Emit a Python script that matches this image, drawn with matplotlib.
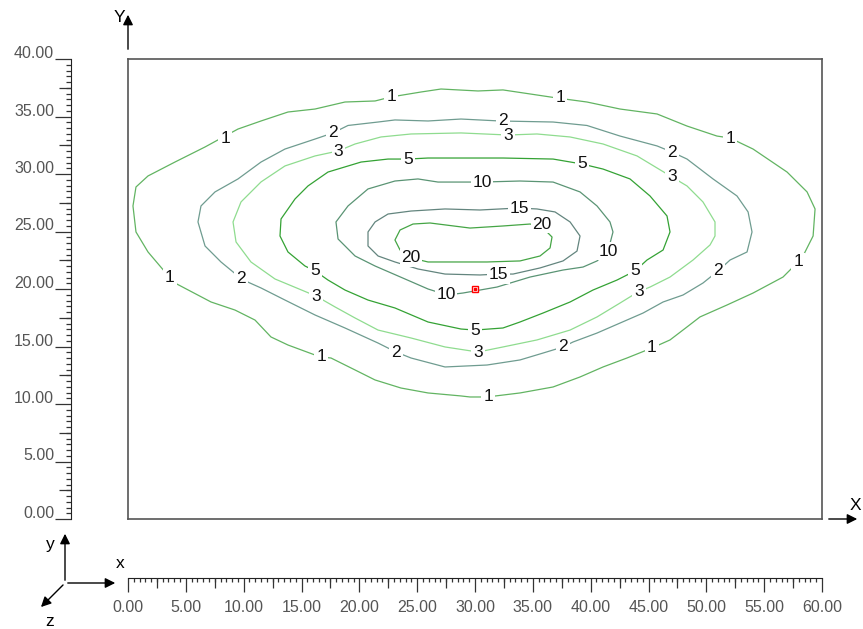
import matplotlib
matplotlib.use("Agg")
import matplotlib.pyplot as plt
from matplotlib.ticker import MultipleLocator, FixedLocator, NullFormatter

plt.rcParams['font.family'] = ['Liberation Sans', 'DejaVu Sans']

# isolines picked off the plan, one closed polyline per level (x, y in m)
c1_x = [3.63, 3.20, 1.73, 0.69, 0.43, 0.69, 1.73, 4.06, 6.66, 8.39, 9.51, 11.50, 13.83, 16.17,
        18.76, 21.36, 22.74, 25.33, 27.06, 30.26, 32.42, 34.76, 37.09, 39.68, 42.54, 45.74,
        48.33, 50.92, 52.05, 54.04, 56.98, 58.71, 59.40, 59.23, 58.36, 57.93, 56.63, 54.04,
        51.79, 49.45, 48.33, 46.86, 45.30, 43.14, 41.07, 39.08, 36.75, 33.89, 31.04, 29.57,
        28.79, 25.94, 23.60, 21.36, 19.63, 17.55, 16.69, 16.17, 13.83, 12.36, 10.98, 9.25,
        7.18, 4.06, 3.63]
c1_y = [20.96, 21.48, 23.22, 24.96, 27.22, 28.87, 29.83, 31.04, 32.35, 33.30, 33.91, 34.61,
        35.39, 35.65, 36.26, 36.35, 36.70, 37.13, 37.39, 37.22, 37.31, 36.96, 36.61, 36.26,
        35.65, 35.22, 34.17, 33.30, 33.13, 32.17, 30.17, 28.44, 26.96, 24.61, 22.87, 22.35,
        21.04, 19.65, 18.61, 17.57, 16.70, 15.57, 14.87, 14.00, 13.22, 12.35, 11.48, 10.96,
        10.61, 10.61, 10.70, 10.96, 11.39, 12.09, 12.96, 14.00, 14.09, 14.26, 15.13, 15.83,
        17.30, 18.17, 18.87, 20.52, 20.96]

c2_x = [9.51, 8.04, 6.66, 6.05, 6.31, 7.52, 9.51, 11.50, 13.57, 16.17, 17.72, 19.02, 21.62,
        23.08, 25.94, 28.79, 32.16, 36.75, 39.68, 42.54, 45.74, 47.03, 48.33, 50.58, 52.65,
        53.61, 53.95, 53.52, 52.05, 51.01, 49.71, 47.99, 46.26, 44.53, 42.54, 40.55, 38.47,
        37.61, 35.88, 33.89, 31.04, 27.41, 24.47, 23.17, 21.62, 18.76, 16.17, 13.57, 11.50,
        9.77, 9.51]
c2_y = [21.13, 22.35, 23.74, 25.83, 27.22, 28.44, 29.57, 31.04, 32.17, 33.04, 33.57, 34.22,
        34.52, 34.70, 34.61, 34.78, 34.61, 34.52, 34.22, 33.30, 32.44, 31.91, 31.30, 29.57,
        28.09, 26.70, 24.96, 23.22, 22.52, 21.57, 20.52, 19.48, 18.87, 17.91, 17.04, 16.17,
        15.39, 14.96, 14.43, 13.83, 13.39, 13.22, 14.00, 14.52, 15.30, 16.61, 17.74, 19.04,
        20.09, 20.87, 21.13]

c3_x = [16.25, 12.71, 10.63, 9.34, 9.08, 9.77, 11.50, 13.57, 16.17, 18.16, 19.63, 21.87,
        24.47, 28.79, 32.85, 35.36, 38.22, 41.07, 44.01, 47.03, 48.33, 49.71, 50.75, 50.75,
        50.32, 48.85, 46.86, 45.13, 44.09, 42.54, 40.55, 38.22, 35.36, 32.42, 30.26, 27.41,
        24.47, 21.62, 19.63, 17.90, 16.25]
c3_y = [19.39, 20.87, 22.35, 24.09, 25.83, 27.57, 29.31, 30.70, 31.57, 32.00, 32.61, 33.22,
        33.48, 33.57, 33.39, 33.48, 33.22, 32.61, 31.57, 29.74, 28.96, 27.57, 25.83, 24.61,
        23.83, 22.52, 21.04, 20.17, 19.74, 18.78, 17.57, 16.43, 15.57, 14.96, 14.52, 14.96,
        15.74, 16.43, 17.48, 18.44, 19.39]

c5_x = [16.17, 15.30, 13.83, 13.14, 13.23, 14.44, 15.56, 17.29, 20.15, 22.48, 24.21, 25.94,
        29.57, 32.42, 36.75, 39.25, 41.07, 43.40, 45.13, 46.60, 46.86, 46.26, 44.87, 43.83,
        42.28, 40.20, 38.22, 35.88, 33.89, 32.42, 30.00, 28.79, 25.94, 23.08, 20.75, 18.76,
        17.29, 16.17]
c5_y = [21.57, 22.00, 23.22, 24.61, 26.09, 27.83, 28.96, 30.17, 31.04, 31.30, 31.30, 31.39,
        31.39, 31.39, 31.30, 30.87, 30.43, 29.57, 28.09, 26.35, 24.96, 23.39, 22.52, 21.57,
        20.78, 19.91, 18.87, 17.91, 17.13, 16.61, 16.43, 16.52, 17.13, 18.35, 19.04, 19.91,
        20.78, 21.57]

c10_x = [27.58, 25.94, 23.95, 21.36, 19.63, 18.16, 17.98, 19.02, 20.75, 23.08, 25.07, 26.80,
         30.61, 33.89, 36.75, 39.08, 40.55, 41.67, 41.93, 41.50, 40.55, 39.34, 37.61, 34.76,
         31.90, 28.96, 27.58]
c10_y = [19.48, 20.00, 20.87, 22.00, 22.87, 24.35, 25.83, 27.22, 28.70, 29.39, 29.57, 29.30,
         29.30, 29.39, 29.30, 28.44, 27.22, 25.83, 24.96, 23.30, 22.44, 21.91, 21.65, 21.04,
         20.17, 19.65, 19.48]

c15_x = [31.99, 30.43, 27.41, 25.07, 23.08, 21.62, 20.75, 20.75, 21.36, 22.48, 24.47, 27.41,
         30.43, 33.72, 35.36, 36.92, 38.22, 39.08, 38.82, 37.61, 35.62, 33.29, 31.99]
c15_y = [21.30, 21.22, 21.30, 21.74, 22.35, 22.87, 23.74, 24.96, 25.83, 26.52, 26.78, 26.96,
         26.87, 27.04, 26.96, 26.70, 25.83, 24.61, 23.30, 22.44, 21.83, 21.30, 21.30]

c20_x = [24.47, 23.52, 23.08, 23.52, 24.64, 26.11, 29.57, 32.42, 34.76, 35.71, 36.66, 36.49,
         35.62, 33.89, 31.04, 28.79, 25.94, 24.47]
c20_y = [22.70, 23.39, 24.26, 25.13, 25.65, 25.74, 25.30, 25.48, 25.65, 25.48, 24.52, 23.57,
         22.87, 22.44, 22.35, 22.35, 22.35, 22.70]

levels = [1, 2, 3, 5, 10, 15, 20]
lines_x = [c1_x, c2_x, c3_x, c5_x, c10_x, c15_x, c20_x]
lines_y = [c1_y, c2_y, c3_y, c5_y, c10_y, c15_y, c20_y]
colors = ['#62b462', '#6f9c90', '#8fdc8f', '#34a234', '#5a9474', '#63857e', '#45a545']

# where the level numbers sit on each line
lab_1 = [(3.63, 20.96), (8.39, 33.13), (22.74, 36.70), (37.35, 36.61), (52.05, 33.13),
         (57.93, 22.35), (45.30, 14.87), (31.13, 10.61), (16.69, 14.09)]
lab_2 = [(17.72, 33.57), (32.42, 34.61), (47.03, 31.91), (51.01, 21.57), (37.61, 14.96),
         (23.17, 14.52), (9.77, 20.87)]
lab_3 = [(18.16, 32.00), (32.85, 33.39), (47.03, 29.74), (44.18, 19.74), (30.26, 14.52),
         (16.25, 19.39)]
lab_5 = [(24.21, 31.30), (39.25, 30.87), (43.83, 21.57), (30.00, 16.43), (16.17, 21.57)]
lab_10 = [(30.61, 29.30), (41.50, 23.30), (27.49, 19.48)]
lab_15 = [(33.81, 27.04), (31.99, 21.22)]
lab_20 = [(35.80, 25.65), (24.47, 22.70)]
labels = [lab_1, lab_2, lab_3, lab_5, lab_10, lab_15, lab_20]

source_x, source_y = 30.0, 20.0

W, H = 863, 629
fig = plt.figure(figsize=(W / 100, H / 100), dpi=100)

x0, x1 = 128, 822          # plan frame in pixels
yt, yb = 59, 519
ax = fig.add_axes([x0 / W, 1 - yb / H, (x1 - x0) / W, (yb - yt) / H])
ax.set_xlim(0, 60)
ax.set_ylim(0, 40)
ax.set_xticks([])
ax.set_yticks([])
for s in ax.spines.values():
    s.set_color('#555555')
    s.set_linewidth(1.2)

for lx, ly, c in zip(lines_x, lines_y, colors):
    ax.plot(lx, ly, color=c, lw=0.9, zorder=2, solid_joinstyle='round')

for lev, pts in zip(levels, labels):
    for px, py in pts:
        ax.text(px, py, str(lev), ha='center', va='center', fontsize=12.5, color='#111111',
                zorder=3, bbox=dict(boxstyle='square,pad=0.1', fc='white', ec='none'))

ax.plot([source_x], [source_y], marker='s', ms=4.5, mfc='white', mec='red', mew=1, zorder=4)
ax.plot([source_x], [source_y], marker='s', ms=1.5, mfc='red', mec='red', zorder=5)

# vertical scale on the left
ax_y = fig.add_axes([71 / W, 1 - yb / H, 0.0001, (yb - yt) / H])
ax_y.set_ylim(0, 40)
ax_y.set_xticks([])
for k in ['right', 'top', 'bottom']:
    ax_y.spines[k].set_visible(False)
ax_y.spines['left'].set_color('#222222')
ax_y.yaxis.set_major_locator(MultipleLocator(5))
ax_y.yaxis.set_minor_locator(MultipleLocator(0.5))
ax_y.yaxis.set_major_formatter(NullFormatter())
ax_y.tick_params(axis='y', which='major', length=11.5, width=0.9, color='#333333')
ax_y.tick_params(axis='y', which='minor', length=3.8, width=0.9, color='#333333')
ax_y.patch.set_visible(False)

ax_y2 = fig.add_axes([71 / W, 1 - yb / H, 0.0001, (yb - yt) / H])
ax_y2.set_ylim(0, 40)
ax_y2.set_xticks([])
for s in ax_y2.spines.values():
    s.set_visible(False)
ax_y2.yaxis.set_major_locator(FixedLocator([2.5 + 5 * i for i in range(8)]))
ax_y2.yaxis.set_major_formatter(NullFormatter())
ax_y2.tick_params(axis='y', length=8.6, width=0.9, color='#333333')
ax_y2.patch.set_visible(False)

for v in range(0, 41, 5):
    ax_y.annotate(f'{v:.2f}', xy=(0, v), xycoords=('axes fraction', 'data'),
                  xytext=(-17, 1), textcoords='offset pixels',
                  ha='right', va='baseline', fontsize=11.5, color='#555555')

# horizontal scale below
xl = 577.5
ax_x = fig.add_axes([x0 / W, 1 - xl / H, (x1 - x0) / W, 0.0001])
ax_x.set_xlim(0, 60)
ax_x.set_yticks([])
for k in ['right', 'top', 'left']:
    ax_x.spines[k].set_visible(False)
ax_x.spines['bottom'].set_color('#222222')
ax_x.xaxis.set_major_locator(MultipleLocator(5))
ax_x.xaxis.set_minor_locator(MultipleLocator(0.5))
ax_x.xaxis.set_major_formatter(NullFormatter())
ax_x.tick_params(axis='x', which='major', length=10, width=0.9, color='#333333')
ax_x.tick_params(axis='x', which='minor', length=3, width=0.9, color='#333333')
ax_x.patch.set_visible(False)

ax_x2 = fig.add_axes([x0 / W, 1 - xl / H, (x1 - x0) / W, 0.0001])
ax_x2.set_xlim(0, 60)
ax_x2.set_yticks([])
for s in ax_x2.spines.values():
    s.set_visible(False)
ax_x2.xaxis.set_major_locator(FixedLocator([2.5 + 5 * i for i in range(12)]))
ax_x2.xaxis.set_major_formatter(NullFormatter())
ax_x2.tick_params(axis='x', length=7, width=0.9, color='#333333')
ax_x2.patch.set_visible(False)

for v in range(0, 61, 5):
    ax_x.annotate(f'{v:.2f}', xy=(v, 0), xycoords=('data', 'axes fraction'),
                  xytext=(0, -35), textcoords='offset pixels',
                  ha='center', va='baseline', fontsize=11.5, color='#555555')

# axis arrows of the plan
arrow = dict(arrowstyle='-|>', color='black', lw=1.0, mutation_scale=15)
fig_px = 'figure pixels'
ax.annotate('', xy=(128, H - 12), xytext=(128, H - 52), xycoords=fig_px,
            textcoords=fig_px, arrowprops=arrow, annotation_clip=False)
fig.text(119 / W, 1 - 18 / H, 'Y', ha='center', va='center', fontsize=12.5)
ax.annotate('', xy=(860, H - 519), xytext=(826, H - 519), xycoords=fig_px,
            textcoords=fig_px, arrowprops=arrow, annotation_clip=False)
fig.text(855 / W, 1 - 506 / H, 'X', ha='center', va='center', fontsize=12.5)

# small orientation triad
ox, oy = 65, H - 583
ax.annotate('', xy=(65, H - 531), xytext=(ox, oy), xycoords=fig_px, textcoords=fig_px,
            arrowprops=arrow, annotation_clip=False)
ax.annotate('', xy=(118, oy), xytext=(ox, oy), xycoords=fig_px, textcoords=fig_px,
            arrowprops=arrow, annotation_clip=False)
ax.annotate('', xy=(39, H - 609), xytext=(ox, oy), xycoords=fig_px, textcoords=fig_px,
            arrowprops=arrow, annotation_clip=False)
fig.text(50 / W, 1 - 545 / H, 'y', ha='center', va='center', fontsize=12.5)
fig.text(120 / W, 1 - 563 / H, 'x', ha='center', va='center', fontsize=12.5)
fig.text(50 / W, 1 - 621 / H, 'z', ha='center', va='center', fontsize=12.5)

fig.savefig('out.png', dpi=100)
